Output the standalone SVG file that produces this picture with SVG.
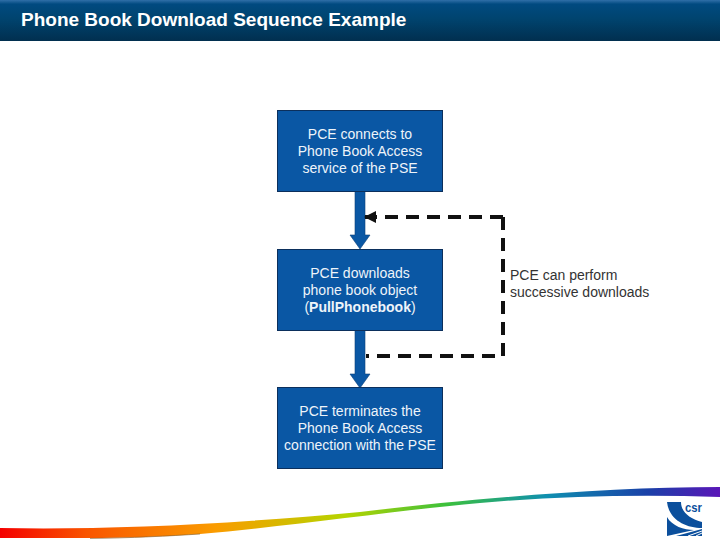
<svg xmlns="http://www.w3.org/2000/svg" width="720" height="540" viewBox="0 0 720 540">
<style>
.box{fill:#0a57a4;stroke:#0b2f5c;stroke-width:1}
.shaft{fill:#0a57a4;stroke:#0b3f78;stroke-width:.6}
.t{font-family:"Liberation Sans",Arial,sans-serif;font-size:14px;text-anchor:middle;fill:#eef4fa}
.dash{fill:none;stroke:#111;stroke-width:4;stroke-dasharray:13 8}
</style>
<defs>
<linearGradient id="hdr" x1="0" y1="0" x2="0" y2="1">
<stop offset="0" stop-color="#2f6fa8"/><stop offset=".1" stop-color="#004a80"/><stop offset=".45" stop-color="#00446f"/><stop offset="1" stop-color="#012f4f"/>
</linearGradient>
<linearGradient id="rb" x1="0" y1="0" x2="1" y2="0">
<stop offset="0" stop-color="#f40000"/><stop offset=".12" stop-color="#f95500"/><stop offset=".3" stop-color="#fa9c00"/><stop offset=".48" stop-color="#b5d400"/><stop offset=".62" stop-color="#3cc03c"/><stop offset=".76" stop-color="#0f8fb0"/><stop offset=".9" stop-color="#1a40a8"/><stop offset="1" stop-color="#5a16b8"/>
</linearGradient>
</defs>
<rect width="720" height="540" fill="#fff"/>
<rect id="header" width="720" height="41" fill="url(#hdr)"/>
<text x="21" y="26" font-family="'Liberation Sans',Arial,sans-serif" font-size="19" font-weight="bold" fill="#fff">Phone Book Download Sequence Example</text>
<path id="swoosh" d="M0 528C100 530 220 525 360 512C460 500 600 487 720 487V497C640 494 560 496 480 503C400 510 300 525 200 534C160 537 120 538 90 538L0 538Z" fill="url(#rb)"/>
<path d="M90 538.500C130 538 170 536 200 534" fill="none" stroke="#7a5a30" stroke-width=".6"/>
<g id="connectors">
<path class="shaft" d="M355 191H365V235H370L360 249L350 235H355Z"/>
<path class="shaft" d="M355 330H365V374H370L360 388L350 374H355Z"/>
<path class="dash" d="M503 217H365M503 217V356H366"/>
<path d="M364 217L376 211V223Z" fill="#111"/>
</g>
<g id="n1"><rect class="box" x="277.500" y="110.500" width="165" height="81"/>
<text class="t" x="360" y="139">PCE connects to</text><text class="t" x="360" y="156">Phone Book Access</text><text class="t" x="360" y="173">service of the PSE</text></g>
<g id="n2"><rect class="box" x="277.500" y="249.500" width="165" height="81"/>
<text class="t" x="360" y="278">PCE downloads</text><text class="t" x="360" y="295">phone book object</text><text class="t" x="360" y="312">(<tspan font-weight="bold">PullPhonebook</tspan>)</text></g>
<g id="n3"><rect class="box" x="277.500" y="387.500" width="165" height="81"/>
<text class="t" x="360" y="416">PCE terminates the</text><text class="t" x="360" y="433">Phone Book Access</text><text class="t" x="360" y="450">connection with the PSE</text></g>
<g id="note" font-family="'Liberation Sans',Arial,sans-serif" font-size="14" fill="#333"><text x="510" y="280">PCE can perform</text><text x="510" y="297">successive downloads</text></g>
<g id="logo">
<path d="M667 502H681C681 512 690 519 702 522V528C686 528 669 520 667 502Z" fill="#0b4f9c"/>
<path d="M667 517C672 526 684 530 694 530L667 536Z" fill="#0b4f9c"/>
<path d="M676 536L702 529V536Z" fill="#0b4f9c"/>
<path d="M688 536L702 531M696 536L702 533" stroke="#fff" stroke-width="1" fill="none"/>
<text x="685" y="512" font-family="'Liberation Sans',Arial,sans-serif" font-size="13" font-weight="bold" fill="#0b4f9c" textLength="17" lengthAdjust="spacingAndGlyphs">csr</text>
</g>
</svg>
